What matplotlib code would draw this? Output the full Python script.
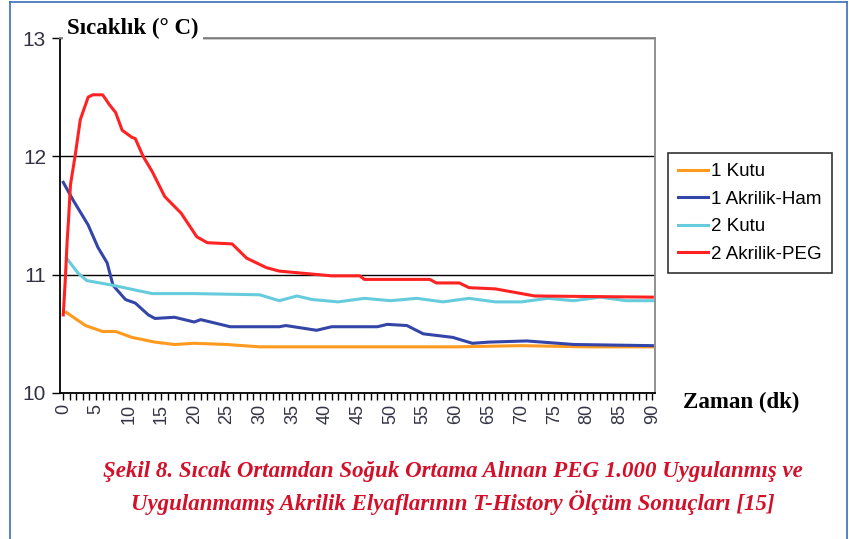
import numpy as np
import matplotlib.pyplot as plt
from matplotlib.lines import Line2D
from matplotlib.ticker import MultipleLocator

# ==============================
# Data (time in minutes, temperature in °C)
# ==============================
t_kutu1 = [0.5, 3.4, 6, 8, 10.5, 14, 17, 20, 25, 30, 40, 50, 60, 70, 80, 90]
v_kutu1 = [10.68, 10.57, 10.52, 10.52, 10.47, 10.43, 10.41, 10.42, 10.41, 10.39,
           10.39, 10.39, 10.39, 10.40, 10.39, 10.39]

t_ham = [0, 1.5, 3.8, 5.3, 6.7, 7.6, 9.5, 11, 13, 14, 17, 20, 21, 25.5, 33, 34,
         38.7, 41, 48, 49.5, 52.5, 55, 59.5, 62.5, 65, 70.8, 78, 90]
v_ham = [11.78, 11.63, 11.42, 11.23, 11.10, 10.91, 10.79, 10.76, 10.66, 10.63,
         10.64, 10.60, 10.62, 10.56, 10.56, 10.57, 10.53, 10.56, 10.56, 10.58,
         10.57, 10.50, 10.47, 10.42, 10.43, 10.44, 10.41, 10.40]

t_kutu2 = [0.5, 2.3, 3.6, 7.6, 11, 13.6, 20, 30, 33, 35.7, 38, 42, 46, 50, 54,
           58, 62, 66, 70, 74, 78, 82, 86, 90]
v_kutu2 = [11.14, 11.01, 10.95, 10.91, 10.87, 10.84, 10.84, 10.83, 10.78, 10.82,
           10.79, 10.77, 10.80, 10.78, 10.80, 10.77, 10.80, 10.77, 10.77, 10.80,
           10.78, 10.81, 10.78, 10.78]

t_peg = [0, 0.3, 0.6, 0.8, 1.1, 1.8, 2.6, 3.8, 4.5, 6, 6.4, 7, 8, 9, 10.5, 11,
         12.2, 13.6, 15.5, 18, 20.4, 22, 25.8, 28, 31, 33, 37, 41, 45.3, 46, 56,
         57, 60.5, 62, 66, 70, 72, 90]
v_peg = [10.66, 10.95, 11.29, 11.46, 11.76, 12.0, 12.31, 12.50, 12.52, 12.52,
         12.49, 12.44, 12.37, 12.22, 12.16, 12.15, 12.0, 11.87, 11.66, 11.52,
         11.32, 11.27, 11.26, 11.14, 11.06, 11.03, 11.01, 10.99, 10.99, 10.96,
         10.96, 10.93, 10.93, 10.89, 10.88, 10.84, 10.82, 10.81]

labels = ["1 Kutu", "1 Akrilik-Ham", "2 Kutu", "2 Akrilik-PEG"]
colors = ["#FF9A1E", "#3445A8", "#66CCDD", "#FF2222"]

x_labels = list(range(0, 91, 5))

# ==============================
# Figure
# ==============================
plt.rcParams["font.family"] = ["Liberation Sans", "DejaVu Sans"]

fig = plt.figure(figsize=(8.49, 5.39), dpi=100)
ax = fig.add_axes([60/849, 1 - 393/539, (655-60)/849, (393-38)/539])

series = [(t_kutu1, v_kutu1), (t_ham, v_ham), (t_kutu2, v_kutu2), (t_peg, v_peg)]
for (t, v), lab, col in zip(series, labels, colors):
    ax.plot(t, v, color=col, lw=2.2, label=lab)

ax.set_xlim(-0.5, 90.4)
ax.set_ylim(10, 13)
ax.set_yticks([10, 11, 12, 13])
ax.set_xticks(x_labels)
ax.xaxis.set_minor_locator(MultipleLocator(1))
ax.set_xticklabels([str(x) for x in x_labels], rotation=90)
ax.tick_params(axis="y", length=6, width=1, labelsize=15, labelcolor="#333344", pad=4)
ax.tick_params(axis="x", which="both", length=5, width=1, labelsize=13,
               labelcolor="#333344", pad=3)
ax.grid(axis="y", color="black", lw=1)
ax.set_axisbelow(True)

for s in ["left", "bottom"]:
    ax.spines[s].set_color("black")
    ax.spines[s].set_linewidth(1.3)
for s in ["top", "right"]:
    ax.spines[s].set_color("#888888")
    ax.spines[s].set_linewidth(1.3)

# axis titles
fig.text(67/849, 1 - 28/539, "Sıcaklık (° C)", family="Liberation Serif",
         weight="bold", fontsize=16.5, va="center", ha="left",
         bbox=dict(facecolor="white", edgecolor="none", pad=3))
fig.text(683/849, 1 - 402/539, "Zaman (dk)", family="Liberation Serif",
         weight="bold", fontsize=16.5, va="center", ha="left")

# legend
leg = ax.legend(loc="upper left", bbox_to_anchor=(668/849, 1 - 153/539),
                bbox_transform=fig.transFigure, frameon=True, fancybox=False,
                edgecolor="black", handlelength=1.6, borderaxespad=0,
                handletextpad=0.15, labelspacing=0.55, borderpad=0.55,
                prop={"family": "Liberation Sans", "size": 13.5})
leg.get_frame().set_linewidth(1.2)

# caption
cap = ("Şekil 8. Sıcak Ortamdan Soğuk Ortama Alınan PEG 1.000 Uygulanmış ve\n"
       "Uygulanmamış Akrilik Elyaflarının T-History Ölçüm Sonuçları [15]")
fig.text(453/849, 1 - 488/539, cap, family="Liberation Serif", weight="bold",
         style="italic", fontsize=16.5, color="#D3102A", ha="center", va="center",
         linespacing=1.38)

# blue page border
border = "#3A70B8"
fig.add_artist(Line2D([10/849, 10/849], [0, 1 - 2/539], color=border, lw=1.2))
fig.add_artist(Line2D([10/849, 847/849], [1 - 2/539, 1 - 2/539], color=border, lw=1.2))
fig.add_artist(Line2D([847/849, 847/849], [0, 1 - 2/539], color=border, lw=1.2))

fig.savefig("out.png", dpi=100)
